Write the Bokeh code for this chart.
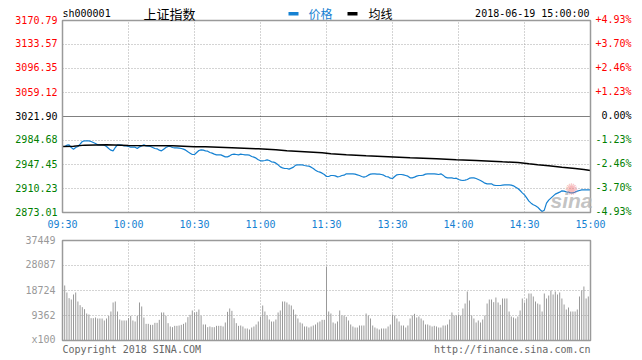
from bokeh.plotting import figure
from bokeh.models import Range1d, Label, LabelSet, ColumnDataSource
from bokeh.embed import file_html
from bokeh.resources import INLINE
from bokeh.core.properties import value, field

# ---------------- data ----------------
PREV_CLOSE = 3021.90
price_ticks = [3170.79, 3133.57, 3096.35, 3059.12, 3021.90, 2984.68, 2947.45, 2910.23, 2873.01]
price_tick_labels = ["3170.79", "3133.57", "3096.35", "3059.12", "3021.90", "2984.68", "2947.45", "2910.23", "2873.01"]
pct_tick_labels = ["+4.93%", "+3.70%", "+2.46%", "+1.23%", "0.00%", "-1.23%", "-2.46%", "-3.70%", "-4.93%"]
vol_ticks = [37449, 28087, 18724, 9362, 0]
vol_tick_labels = ["37449", "28087", "18724", "9362", "x100"]
time_ticks = [0, 30, 60, 90, 120, 150, 180, 210, 240]
time_labels = ["09:30", "10:00", "10:30", "11:00", "11:30", "13:30", "14:00", "14:30", "15:00"]

# price per minute (0 = 09:30 ... 120 = 11:30, 121 = 13:01 ... 240 = 15:00)
price = [
    2975.38, 2975.38, 2977.44, 2977.96, 2973.83, 2971.24, 2973.83, 2975.38, 2978.99, 2983.13,
    2984.16, 2984.16, 2984.16, 2983.13, 2981.58, 2980.03, 2977.96, 2977.96, 2977.96, 2977.44,
    2975.38, 2972.28, 2969.69, 2968.66, 2973.83, 2977.96, 2977.96, 2977.44, 2976.41, 2976.41,
    2975.38, 2974.34, 2974.34, 2974.34, 2972.28, 2974.86, 2976.41, 2977.96, 2976.41, 2975.89,
    2975.38, 2973.83, 2972.28, 2971.76, 2969.69, 2968.66, 2971.24, 2973.83, 2975.38, 2975.38,
    2973.83, 2973.31, 2973.31, 2972.79, 2972.28, 2971.24, 2969.69, 2967.10, 2965.04, 2962.97,
    2962.97, 2966.07, 2969.17, 2970.21, 2969.69, 2968.66, 2968.14, 2966.07, 2965.04, 2963.49,
    2962.45, 2962.45, 2962.45, 2960.90, 2959.35, 2959.35, 2960.90, 2962.97, 2963.49, 2962.97,
    2962.45, 2963.49, 2962.97, 2962.45, 2962.45, 2961.94, 2959.87, 2958.83, 2957.29, 2954.70,
    2953.15, 2953.15, 2953.67, 2954.70, 2953.67, 2951.60, 2951.08, 2949.53, 2946.94, 2943.84,
    2942.29, 2941.26, 2941.26, 2940.22, 2941.77, 2943.33, 2946.43, 2946.94, 2946.94, 2946.94,
    2945.91, 2945.39, 2944.88, 2943.33, 2941.26, 2938.67, 2936.61, 2935.57, 2934.02, 2931.95,
    2928.85,
    2928.85, 2930.40, 2930.40, 2929.88, 2928.33, 2928.85, 2930.40, 2930.92, 2932.99, 2932.99,
    2932.99, 2932.99, 2932.47, 2931.44, 2930.40, 2928.85, 2927.82, 2928.85, 2930.92, 2932.47,
    2932.99, 2932.99, 2932.47, 2932.47, 2931.95, 2930.92, 2928.85, 2928.33, 2926.27, 2925.75,
    2928.85, 2931.44, 2931.95, 2931.95, 2931.44, 2930.40, 2929.37, 2926.78, 2926.78, 2927.82,
    2929.37, 2930.40, 2930.40, 2930.92, 2932.47, 2932.99, 2932.99, 2932.99, 2932.99, 2932.47,
    2931.95, 2932.99, 2930.92, 2927.82, 2926.78, 2926.78, 2926.78, 2925.75, 2926.27, 2924.20,
    2923.17, 2922.65, 2923.17, 2924.20, 2926.27, 2926.78, 2926.78, 2925.75, 2924.20, 2922.65,
    2920.58, 2918.51, 2917.48, 2917.48, 2917.48, 2915.41, 2914.89, 2914.89, 2914.89, 2915.41,
    2915.93, 2915.93, 2915.93, 2915.41, 2914.38, 2912.31, 2910.24, 2907.14, 2903.52, 2900.42,
    2895.77, 2890.59, 2887.49, 2884.91, 2883.36, 2881.29, 2877.67, 2874.57, 2876.64, 2887.49,
    2892.15, 2895.25, 2898.35, 2901.45, 2903.00, 2904.56, 2906.62, 2906.11, 2905.07, 2904.56,
    2903.52, 2903.52, 2904.56, 2906.11, 2907.14, 2908.17, 2908.17, 2908.17, 2908.17, 2908.17,
]

avg_minutes = [0, 5, 10, 20, 30, 50, 60, 65, 77, 89, 97, 102, 110, 118, 122, 129, 138, 148, 158, 170,
               179, 188, 195, 200, 207, 212, 216, 221, 227, 233, 237, 240]
avg_price = [2975.38, 2975.90, 2977.50, 2977.96, 2976.90, 2976.40, 2975.00, 2974.86, 2973.31, 2971.76,
             2970.21, 2968.66, 2967.10, 2965.55, 2964.00, 2962.45, 2960.90, 2959.35, 2957.80, 2956.25,
             2954.70, 2953.67, 2952.63, 2951.60, 2950.56, 2948.50, 2947.00, 2945.40, 2943.30, 2941.30,
             2939.70, 2938.15]

volume = [
    15000,
    20597, 17976, 15853, 15354, 17227, 17976, 14605, 13232, 12483, 11734,
    10111, 9737, 8364, 8364, 8613, 8239, 8239, 8239, 7490, 8239,
    9237, 10860, 14231, 14605, 10860, 7864, 7490, 7490, 7490, 8364,
    9237, 7490, 7115, 9237, 14231, 12733, 8613, 6242, 6242, 5867,
    5867, 6616, 6616, 7739, 10486, 10486, 9237, 6491, 5243, 4993,
    5493, 5493, 5617, 5867, 6242, 6741, 8738, 9612, 11235, 10486,
    10735, 11609, 9237, 5992, 5992, 4993, 5243, 4993, 4993, 5493,
    5493, 5493, 5243, 6741, 10735, 11984, 11110, 8364, 6491, 5493,
    5617, 5243, 4494, 4494, 4119, 4868, 5243, 5992, 7115, 8863,
    13107, 10860, 9362, 7864, 7115, 7115, 7864, 10486, 11235, 14605,
    14605, 14231, 13482, 13107, 11609, 9737, 8239, 6741, 6366, 5243,
    5243, 4868, 5243, 5617, 5992, 6741, 7115, 7739, 7739,
    27712,
    10860, 10111, 6741, 6366, 7115, 11235, 9362, 9362, 8863, 7490,
    5992, 5243, 4868, 4868, 5617, 5617, 5617, 10111, 9362, 8239,
    5617, 4868, 4494, 4119, 4494, 4494, 4494, 5243, 5992, 9737,
    9362, 8239, 7115, 5617, 5617, 4868, 5617, 8239,
    9362, 9986, 8613, 8988, 8239, 7490, 5992, 5992, 5617, 5243,
    5493, 5243, 4868, 4868, 5617, 5617, 5992, 7864, 10486, 9362,
    9362, 9737, 9362, 11984, 13856, 18350, 14980, 9362, 8239, 6741,
    7490, 6741, 7864, 9362, 13856, 15354, 15354, 14355, 16103, 14231,
    13357, 15729, 15729, 15729, 10860, 8988, 8613, 8239, 8988, 11235,
    15729, 14231, 15729, 17601, 17601, 16478, 14605, 13856, 13482, 10860,
    17601, 15729, 16852, 18725, 17227, 18350, 17227, 17976, 15729, 13482,
    11609, 12358, 10860, 10860, 10860, 11609, 16478, 18725, 20222, 15729,
    16478,
    16000,
]
minutes = list(range(len(price)))
vol_minutes = list(range(len(volume)))

# ---------------- style / layout ----------------
MONO = "DejaVu Sans Mono"
CJK = "Noto Sans CJK SC"
BLUE = "#1581d2"
GRID = "#a8a8a8"
FRAME = "#9a9a9a"
RED = "#ff0000"
GREEN = "#008000"

W, H = 642, 360
PL, PR = 62, 590              # chart area left/right (px)
PT, PB = 20, 212              # price area top/bottom (px)
VT, VB = 240, 340             # volume area top/bottom (px)

x_lo, x_hi = time_ticks[0], time_ticks[-1]
y_lo, y_hi = price_ticks[-1], price_ticks[0]
v_lo, v_hi = vol_ticks[-1], vol_ticks[0]
mpx = (x_hi - x_lo) / (PR - PL)       # minutes per px
ppx = (y_hi - y_lo) / (PB - PT)       # price per px
vpx = (v_hi - v_lo) / (VB - VT)       # volume per px

def py(px_y):   # canvas pixel row -> price units
    return y_lo + (PB - px_y) * ppx

p = figure(width=W, height=H, title=None,
           x_range=Range1d(x_lo - PL * mpx, x_hi + (W - PR) * mpx),
           y_range=Range1d(y_lo - (H - PB) * ppx, y_hi + PT * ppx),
           output_backend="svg", toolbar_location=None,
           x_axis_location=None, y_axis_location=None,
           min_border=0, min_border_left=0, min_border_right=0,
           min_border_top=0, min_border_bottom=0)
p.extra_y_ranges = {"vol": Range1d(v_lo - (H - VB) * vpx, v_hi + VT * vpx)}
p.background_fill_color = "white"
p.border_fill_color = "white"
p.outline_line_color = None
p.grid.visible = False

dot = dict(line_color=GRID, line_dash="1 2", line_width=1)
vgrid = time_ticks[1:-1]

# ----- price panel -----
hgrid = [t for t in price_ticks[1:-1] if t != PREV_CLOSE]
p.segment(x0=vgrid, y0=[y_lo] * len(vgrid), x1=vgrid, y1=[y_hi] * len(vgrid), **dot)
p.segment(x0=[x_lo] * len(hgrid), y0=hgrid, x1=[x_hi] * len(hgrid), y1=hgrid, **dot)
p.segment(x0=[x_lo], y0=[PREV_CLOSE], x1=[x_hi], y1=[PREV_CLOSE],
          line_color="black", line_dash="1 1", line_width=1)

# watermark (behind the lines)
p.add_layout(Label(x=571, y=py(189), x_units="screen", text="✺", text_align="center",
                   text_baseline="middle", text_font="DejaVu Sans", text_font_size="16px",
                   text_color="#f08080", text_alpha=0.55))
p.add_layout(Label(x=571, y=py(200), x_units="screen", text="sina", text_align="center",
                   text_baseline="middle", text_font="Liberation Sans", text_font_size="21px",
                   text_font_style="bold italic", text_color="#b4b4b4", text_alpha=0.8))

p.line(minutes, price, line_color=BLUE, line_width=1.2)
p.line(avg_minutes, avg_price, line_color="black", line_width=1.5)
p.quad(left=[x_lo], right=[x_hi], bottom=[y_lo], top=[y_hi],
       fill_color=None, line_color=FRAME, line_width=1.5)

label_colors = [RED if t > PREV_CLOSE else ("black" if t == PREV_CLOSE else GREEN) for t in price_ticks]
src_tk = ColumnDataSource(dict(y=price_ticks, t=price_tick_labels, pct=pct_tick_labels, c=label_colors))
p.add_layout(LabelSet(x=57, y="y", text="t", source=src_tk, x_units="screen",
                      text_align="right", text_baseline="middle", text_color=field("c"),
                      text_font=value(MONO), text_font_size="10px", y_offset=1))
p.add_layout(LabelSet(x=631, y="y", text="pct", source=src_tk, x_units="screen",
                      text_align="right", text_baseline="middle", text_color=field("c"),
                      text_font=value(MONO), text_font_size="10px", y_offset=1))

src_time = ColumnDataSource(dict(x=time_ticks, t=time_labels))
p.add_layout(LabelSet(x="x", y=py(224), text="t", source=src_time,
                      text_align="center", text_baseline="middle", text_color=BLUE,
                      text_font=value(MONO), text_font_size="10px"))

# header
y_hdr = py(13)
p.add_layout(Label(x=62, y=y_hdr, x_units="screen", text="sh000001", text_align="left",
                   text_baseline="middle", text_font=MONO, text_font_size="10px",
                   text_color="black"))
p.add_layout(Label(x=143, y=y_hdr, x_units="screen", text="上证指数", text_align="left",
                   text_baseline="middle", text_font=CJK, text_font_size="13px",
                   text_color="black"))
p.quad(left=[x_lo + (288 - PL) * mpx], right=[x_lo + (298 - PL) * mpx],
       bottom=[py(15)], top=[py(11.5)], fill_color=BLUE, line_color=None)
p.add_layout(Label(x=308, y=y_hdr, x_units="screen", text="价格", text_align="left",
                   text_baseline="middle", text_font=CJK, text_font_size="12px",
                   text_color=BLUE))
p.quad(left=[x_lo + (347 - PL) * mpx], right=[x_lo + (357 - PL) * mpx],
       bottom=[py(15)], top=[py(11.5)], fill_color="black", line_color=None)
p.add_layout(Label(x=368, y=y_hdr, x_units="screen", text="均线", text_align="left",
                   text_baseline="middle", text_font=CJK, text_font_size="12px",
                   text_color="black"))
p.add_layout(Label(x=589, y=y_hdr, x_units="screen", text="2018-06-19 15:00:00",
                   text_align="right", text_baseline="middle", text_font=MONO,
                   text_font_size="10px", text_color="black"))

# ----- volume panel -----
vh = vol_ticks[1:-1]
p.segment(x0=vgrid, y0=[v_lo] * len(vgrid), x1=vgrid, y1=[v_hi] * len(vgrid),
          y_range_name="vol", **dot)
p.segment(x0=[x_lo] * len(vh), y0=vh, x1=[x_hi] * len(vh), y1=vh, y_range_name="vol", **dot)
p.segment(x0=vol_minutes, y0=[v_lo] * len(volume), x1=vol_minutes, y1=volume,
          line_color="#999999", line_width=1, y_range_name="vol")
p.quad(left=[x_lo], right=[x_hi], bottom=[v_lo], top=[v_hi], fill_color=None,
       line_color=FRAME, line_width=1.5, y_range_name="vol")

src_vol = ColumnDataSource(dict(y=vol_ticks, t=vol_tick_labels))
p.add_layout(LabelSet(x=55, y="y", text="t", source=src_vol, x_units="screen", y_range_name="vol",
                      text_align="right", text_baseline="middle", text_color="#999999",
                      text_font=value(MONO), text_font_size="10px", y_offset=1))
p.add_layout(Label(x=62, y=py(349), x_units="screen", text="Copyright 2018 SINA.COM",
                   text_align="left", text_baseline="middle", text_font=MONO,
                   text_font_size="10px", text_color="#666666"))
p.add_layout(Label(x=590, y=py(349), x_units="screen", text="http://finance.sina.com.cn",
                   text_align="right", text_baseline="middle", text_font=MONO,
                   text_font_size="10px", text_color="#666666"))

open("out.html", "w").write(file_html(p, INLINE))
